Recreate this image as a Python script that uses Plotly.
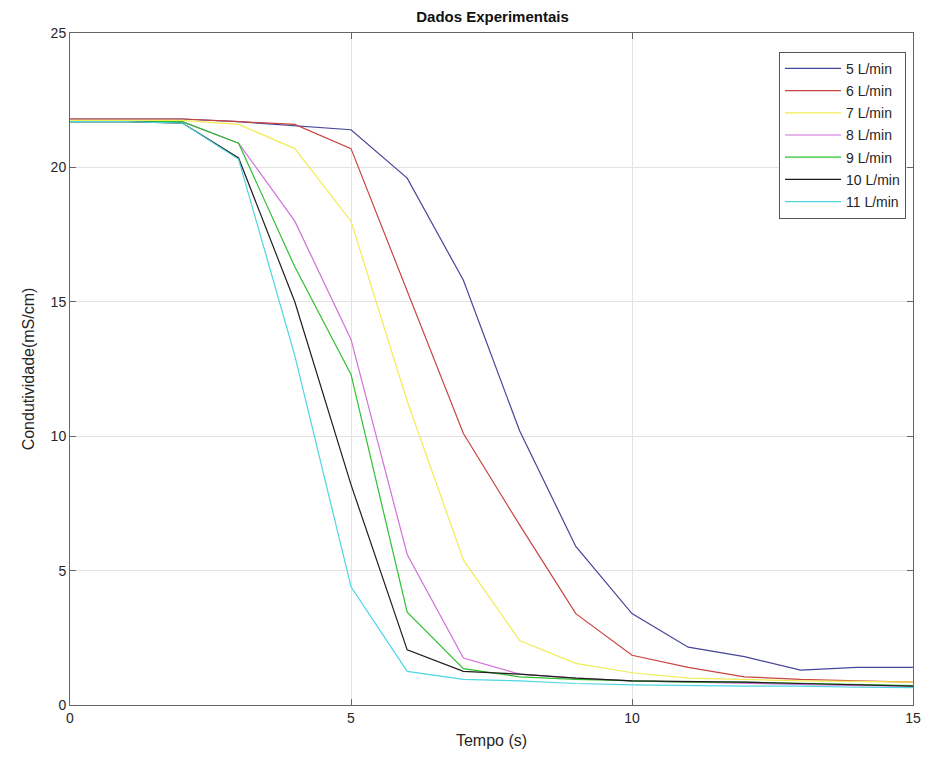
import plotly.graph_objects as go

tempo = list(range(0, 16))

series_names = ["5 L/min", "6 L/min", "7 L/min", "8 L/min", "9 L/min", "10 L/min", "11 L/min"]

v5 = [21.8, 21.8, 21.8, 21.7, 21.55, 21.4, 19.6, 15.8, 10.2, 5.9, 3.4, 2.15, 1.8, 1.3, 1.4, 1.4]
v6 = [21.8, 21.8, 21.8, 21.7, 21.6, 20.7, 15.4, 10.1, 6.7, 3.4, 1.85, 1.4, 1.05, 0.95, 0.9, 0.85]
v7 = [21.75, 21.75, 21.75, 21.6, 20.7, 18.0, 11.3, 5.4, 2.4, 1.55, 1.2, 1.0, 0.95, 0.9, 0.88, 0.85]
v8 = [21.7, 21.7, 21.7, 20.9, 18.0, 13.6, 5.6, 1.75, 1.15, 1.0, 0.9, 0.85, 0.8, 0.75, 0.72, 0.7]
v9 = [21.7, 21.7, 21.7, 20.9, 16.3, 12.3, 3.45, 1.35, 1.05, 0.95, 0.9, 0.85, 0.85, 0.8, 0.75, 0.72]
v10 = [21.7, 21.7, 21.65, 20.35, 15.0, 8.2, 2.05, 1.25, 1.15, 1.0, 0.9, 0.88, 0.85, 0.8, 0.75, 0.7]
v11 = [21.7, 21.7, 21.65, 20.3, 13.0, 4.4, 1.25, 0.95, 0.9, 0.8, 0.75, 0.72, 0.7, 0.7, 0.66, 0.65]

all_values = [v5, v6, v7, v8, v9, v10, v11]
colors = ["#45459a", "#c8453f", "#f2ec55", "#d070d8", "#2fc02f", "#1e1e1e", "#4fd6e2"]

x_ticks = [0, 5, 10, 15]
y_ticks = [0, 5, 10, 15, 20, 25]

fig = go.Figure()
for i, (name, vals) in enumerate(zip(series_names, all_values)):
    fig.add_trace(go.Scatter(
        x=tempo, y=vals, mode="lines", name=name,
        legendgroup=f"g{i}",
        line=dict(color=colors[i], width=1.2),
    ))

font_family = "Liberation Sans, Arial, sans-serif"
fig.update_layout(
    width=933, height=767,
    margin=dict(l=70, r=18, t=33, b=62),
    paper_bgcolor="white", plot_bgcolor="white",
    font=dict(family=font_family, color="#262626", size=14),
    title=dict(text="<b>Dados Experimentais</b>", x=(70 + 915) / 2 / 933, xanchor="center",
               y=1 - 17 / 767, yanchor="middle", font=dict(size=15, color="#111111")),
    showlegend=True,
    legend=dict(
        x=0.9917, xanchor="right", y=0.972, yanchor="top",
        bgcolor="white", bordercolor="#555555", borderwidth=1,
        font=dict(size=14, color="#262626"),
        traceorder="grouped", tracegroupgap=1,
        itemwidth=56,
    ),
)
fig.update_xaxes(
    range=[0, 15], tickvals=x_ticks, showgrid=True, gridcolor="#e3e3e3", gridwidth=1,
    showline=True, linecolor="#666666", linewidth=1, mirror="ticks",
    ticks="inside", ticklen=6, tickcolor="#666666", zeroline=False,
    title=dict(text="Tempo (s)", font=dict(size=16), standoff=10),
    tickfont=dict(size=14),
)
fig.update_yaxes(
    range=[0, 25], tickvals=y_ticks, showgrid=True, gridcolor="#e3e3e3", gridwidth=1,
    showline=True, linecolor="#666666", linewidth=1, mirror="ticks",
    ticks="inside", ticklen=6, tickcolor="#666666", zeroline=False,
    title=dict(text="Condutividade(mS/cm)", font=dict(size=16), standoff=12),
    tickfont=dict(size=14),
)

fig.write_html("out.html")
